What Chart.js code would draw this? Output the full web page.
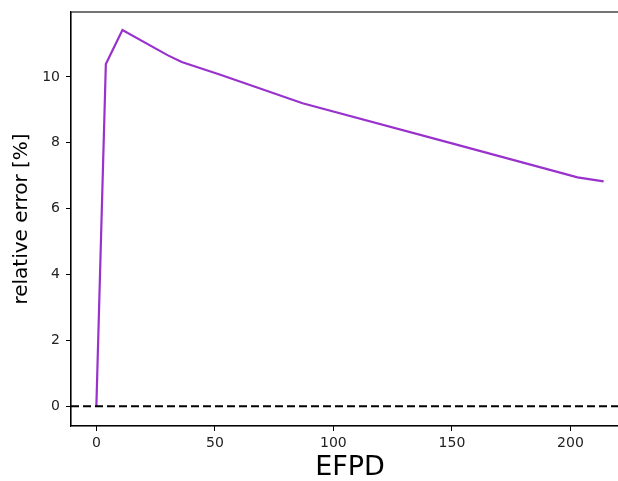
<!DOCTYPE html>
<html>
<head>
<meta charset="utf-8">
<script src="https://cdn.jsdelivr.net/npm/chart.js@4.4.1/dist/chart.umd.min.js"></script>
<style>
  html, body { margin: 0; padding: 0; background: #fff; overflow: hidden; }
  #wrap { width: 640px; height: 481px; }
</style>
</head>
<body>
<div id="wrap"><canvas id="c" width="640" height="481"></canvas></div>
<script>
// ---- data ----
const efpd = [0, 4, 11, 30, 36, 52, 87, 150, 203, 214];
const relError = [0, 10.39, 11.42, 10.66, 10.45, 10.07, 9.2, 7.98, 6.95, 6.83];
const xTicks = [0, 50, 100, 150, 200];
const yTicks = [0, 2, 4, 6, 8, 10];
const xMin = -10.7, xMax = 224.7;
const yMin = -0.6, yMax = 11.97;
const referenceLevel = 0;

const FONT = "'DejaVu Sans', sans-serif";

const framePlugin = {
  id: 'frame',
  afterDatasetsDraw(chart) {
    const {ctx, chartArea: a} = chart;
    ctx.save();
    ctx.strokeStyle = '#000';
    ctx.lineWidth = 1.1;
    ctx.strokeRect(a.left, a.top, a.right - a.left, a.bottom - a.top);
    ctx.restore();
  }
};

new Chart(document.getElementById('c'), {
  type: 'scatter',
  data: {
    datasets: [
      {
        label: 'relative error',
        data: efpd.map((x, i) => ({x, y: relError[i]})),
        showLine: true,
        borderColor: '#9932CC',
        borderWidth: 2.2,
        pointRadius: 0,
        tension: 0,
        order: 1
      },
      {
        label: 'zero',
        data: [{x: xMin, y: referenceLevel}, {x: xMax, y: referenceLevel}],
        showLine: true,
        borderColor: '#000',
        borderWidth: 2,
        borderDash: [8, 4],
        pointRadius: 0,
        order: 0
      }
    ]
  },
  options: {
    responsive: false,
    animation: false,
    devicePixelRatio: 1,
    layout: { padding: { left: 0, top: 12, right: 11, bottom: 0 } },
    plugins: { legend: { display: false }, tooltip: { enabled: false } },
    scales: {
      x: {
        type: 'linear',
        min: xMin, max: xMax,
        afterBuildTicks: s => { s.ticks = xTicks.map(v => ({value: v})); },
        afterFit: s => { s.height = 55; s.paddingLeft = 0; s.paddingRight = 0; },
        grid: { drawOnChartArea: false, drawTicks: true, tickLength: 5, color: '#000', lineWidth: 1 },
        border: { display: true, color: '#000', width: 1.1 },
        ticks: { color: '#222', font: { family: FONT, size: 14 }, padding: 4, maxRotation: 0 },
        title: { display: true, text: 'EFPD', color: '#000', font: { family: FONT, size: 27, lineHeight: 1 }, padding: 0 }
      },
      y: {
        type: 'linear',
        min: yMin, max: yMax,
        afterBuildTicks: s => { s.ticks = yTicks.map(v => ({value: v})); },
        afterFit: s => { s.width = 71; s.paddingTop = 0; s.paddingBottom = 0; },
        grid: { drawOnChartArea: false, drawTicks: true, tickLength: 5, color: '#000', lineWidth: 1 },
        border: { display: true, color: '#000', width: 1.1 },
        ticks: { color: '#222', font: { family: FONT, size: 14 }, padding: 6 },
        title: { display: true, text: 'relative error [%]', color: '#000', font: { family: FONT, size: 20, lineHeight: 1.2 }, padding: { top: 10, bottom: 0 } }
      }
    }
  },
  plugins: [framePlugin]
});
</script>
</body>
</html>
